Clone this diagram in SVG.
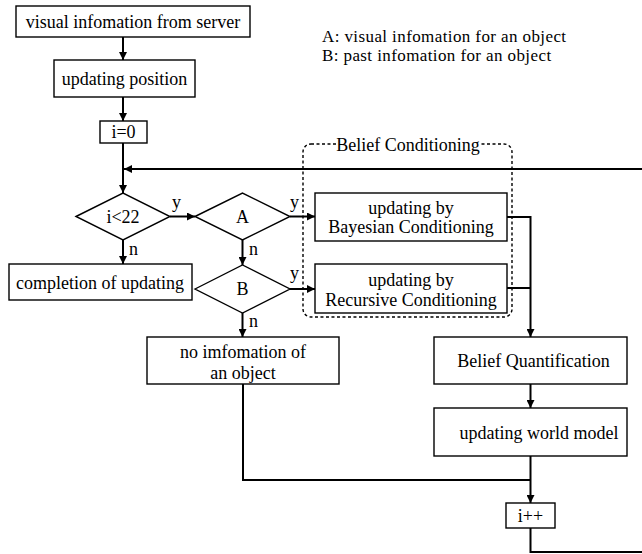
<svg xmlns="http://www.w3.org/2000/svg" width="642" height="554" viewBox="0 0 642 554">
<style>
text{font-family:"Liberation Serif","Times New Roman",serif;font-size:18px;fill:#000}
.c{text-anchor:middle}
.lg{font-size:17px;letter-spacing:0.4px}
.box{fill:#fff;stroke:#000;stroke-width:1.4}
.ln{fill:none;stroke:#000;stroke-width:2}
.dash{fill:none;stroke:#000;stroke-width:1.4;stroke-dasharray:3 2.5}
</style>
<defs>
<marker id="ah" viewBox="0 0 10 10" refX="10" refY="5" markerWidth="4" markerHeight="4" orient="auto" markerUnits="strokeWidth">
<path d="M0,0 L10,5 L0,10 z" fill="#000"/>
</marker>
</defs>
<rect width="642" height="554" fill="#fff"/>

<g id="legend">
<text class="lg" x="322" y="42">A: visual infomation for an object</text>
<text class="lg" x="322" y="61">B: past infomation for an object</text>
</g>

<g id="belief-conditioning">
<rect class="dash" x="303" y="144" width="209" height="173" rx="8"/>
<rect x="336" y="136" width="145" height="16" fill="#fff"/>
<text class="c" x="408" y="151">Belief Conditioning</text>
</g>

<g id="connectors">
<line class="ln" x1="123" y1="37" x2="123" y2="60" marker-end="url(#ah)"/>
<line class="ln" x1="123" y1="97" x2="123" y2="121" marker-end="url(#ah)"/>
<line class="ln" x1="123" y1="143" x2="123" y2="193" marker-end="url(#ah)"/>
<line class="ln" x1="642" y1="169" x2="124" y2="169" marker-end="url(#ah)"/>
<line class="ln" x1="170" y1="216.5" x2="195" y2="216.5" marker-end="url(#ah)"/>
<line class="ln" x1="290" y1="216.5" x2="315" y2="216.5" marker-end="url(#ah)"/>
<line class="ln" x1="290" y1="289" x2="315" y2="289" marker-end="url(#ah)"/>
<line class="ln" x1="123" y1="240" x2="123" y2="264" marker-end="url(#ah)"/>
<line class="ln" x1="242.5" y1="240" x2="242.5" y2="265" marker-end="url(#ah)"/>
<line class="ln" x1="242.5" y1="313" x2="242.5" y2="337" marker-end="url(#ah)"/>
<polyline class="ln" points="507,217 530.5,217 530.5,337" marker-end="url(#ah)"/>
<polyline class="ln" points="507,288 530.5,288"/>
<line class="ln" x1="530.5" y1="384" x2="530.5" y2="408" marker-end="url(#ah)"/>
<polyline class="ln" points="243,384 243,480 530.5,480"/>
<line class="ln" x1="530.5" y1="456" x2="530.5" y2="503" marker-end="url(#ah)"/>
<polyline class="ln" points="530.5,528 530.5,552 642,552"/>
<text x="172" y="208">y</text>
<text x="290" y="208">y</text>
<text x="290" y="279">y</text>
<text x="129" y="255">n</text>
<text x="249" y="255">n</text>
<text x="249" y="327">n</text>
</g>

<g id="server">
<rect class="box" x="16" y="6" width="234" height="31"/>
<text class="c" x="133" y="28">visual infomation from server</text>
</g>
<g id="update-position">
<rect class="box" x="54" y="60" width="141" height="37"/>
<text class="c" x="124.5" y="85">updating position</text>
</g>
<g id="init">
<rect class="box" x="100" y="121" width="47" height="22"/>
<text class="c" x="123.5" y="138">i=0</text>
</g>
<g id="cond-i">
<polygon class="box" points="76,216.5 123,193 170,216.5 123,240"/>
<text class="c" x="123" y="223">i&lt;22</text>
</g>
<g id="cond-a">
<polygon class="box" points="195,216.5 242.5,193 290,216.5 242.5,240"/>
<text class="c" x="242.5" y="223">A</text>
</g>
<g id="cond-b">
<polygon class="box" points="195,289 242.5,265 290,289 242.5,313"/>
<text class="c" x="242.5" y="295">B</text>
</g>
<g id="completion">
<rect class="box" x="9" y="264" width="183" height="36"/>
<text class="c" x="100" y="289">completion of updating</text>
</g>
<g id="bayesian">
<rect class="box" x="315" y="193" width="192" height="48"/>
<text class="c" x="411" y="214">updating by</text>
<text class="c" x="411" y="233">Bayesian Conditioning</text>
</g>
<g id="recursive">
<rect class="box" x="315" y="264" width="192" height="49"/>
<text class="c" x="411" y="286">updating by</text>
<text class="c" x="411" y="306">Recursive Conditioning</text>
</g>
<g id="no-info">
<rect class="box" x="147" y="337" width="192" height="47"/>
<text class="c" x="243" y="357.5">no imfomation of</text>
<text class="c" x="243" y="379">an object</text>
</g>
<g id="quantification">
<rect class="box" x="434" y="337" width="193" height="47"/>
<text class="c" x="533.5" y="367">Belief Quantification</text>
</g>
<g id="world-model">
<rect class="box" x="434" y="408" width="193" height="48"/>
<text class="c" x="539" y="439">updating world model</text>
</g>
<g id="increment">
<rect class="box" x="506" y="503" width="49" height="25"/>
<text class="c" x="530.5" y="521.5">i++</text>
</g>
</svg>
